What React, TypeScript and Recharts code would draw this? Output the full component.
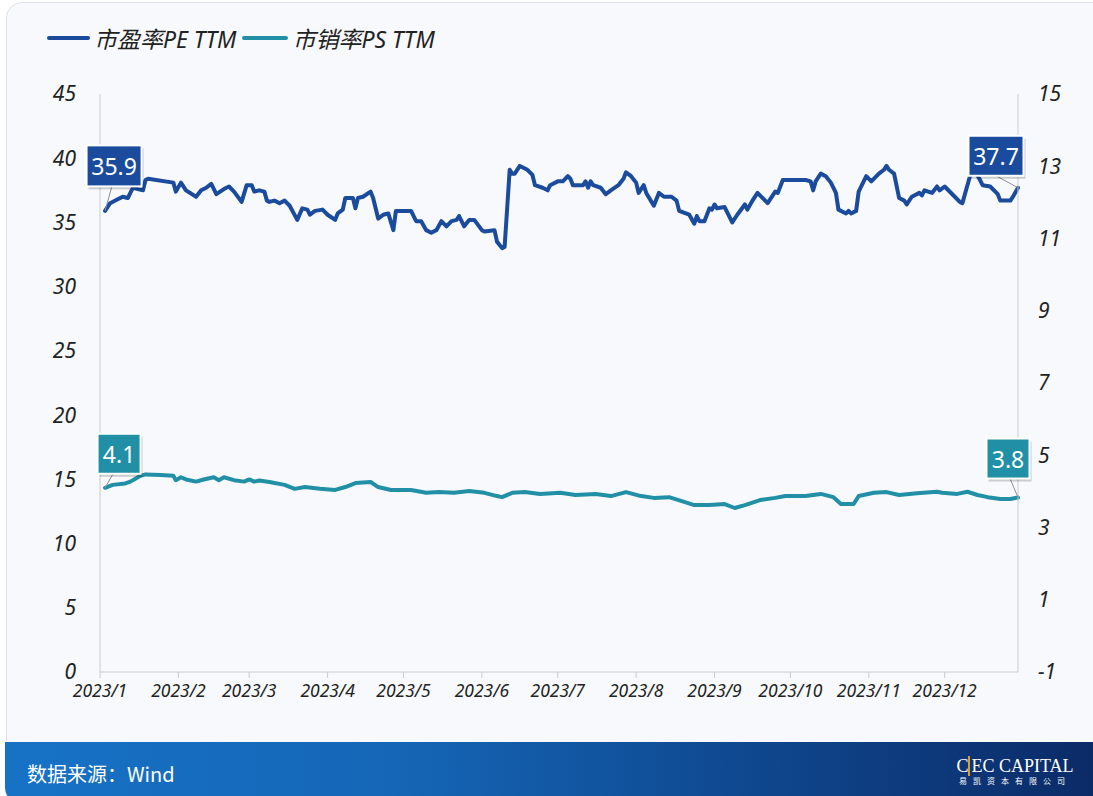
import React from 'react';
import { LineChart, Line, XAxis, YAxis, LabelList } from 'recharts';

const monthTicks = [0, 31, 59, 90, 120, 151, 181, 212, 243, 273, 304, 334];
const monthLabels = ['2023/1', '2023/2', '2023/3', '2023/4', '2023/5', '2023/6', '2023/7', '2023/8', '2023/9', '2023/10', '2023/11', '2023/12'];
const leftTicks = [0, 5, 10, 15, 20, 25, 30, 35, 40, 45];
const rightTicks = [-1, 1, 3, 5, 7, 9, 11, 13, 15];

const peDays = [2, 4, 7, 9, 11, 12, 13, 17, 18, 19, 29, 30, 32, 34, 38, 40, 42, 44, 46, 49, 51, 53, 56, 58, 60, 61, 63, 65, 66, 67, 69, 71, 73, 75, 78, 80, 82, 83, 85, 88, 90, 93, 94, 96, 97, 100, 101, 102, 104, 107, 108, 110, 112, 114, 116, 117, 123, 125, 127, 129, 131, 133, 135, 137, 139, 141, 142, 144, 146, 148, 151, 152, 156, 157, 159, 160, 162, 163, 164, 166, 169, 171, 172, 175, 177, 178, 181, 183, 185, 186, 187, 191, 192, 193, 194, 195, 198, 200, 202, 205, 207, 208, 210, 212, 213, 215, 216, 219, 221, 223, 226, 228, 229, 233, 235, 236, 237, 239, 241, 242, 243, 244, 247, 250, 252, 255, 256, 258, 260, 264, 267, 268, 270, 279, 281, 282, 283, 285, 287, 289, 291, 292, 295, 296, 297, 299, 300, 303, 305, 308, 310, 311, 312, 314, 316, 318, 319, 321, 324, 325, 326, 329, 331, 332, 334, 338, 340, 341, 344, 345, 346, 348, 349, 352, 355, 356, 359, 360, 361, 363];
const peValues = [35.9, 36.5, 36.8, 37.0, 36.9, 37.3, 37.7, 37.5, 38.3, 38.4, 38.1, 37.4, 38.1, 37.5, 37.0, 37.5, 37.7, 38.0, 37.2, 37.6, 37.8, 37.4, 36.6, 37.9, 37.9, 37.4, 37.5, 37.4, 36.7, 36.6, 36.7, 36.5, 36.7, 36.3, 35.2, 36.1, 36.0, 35.6, 35.9, 36.0, 35.6, 35.2, 35.7, 36.0, 36.9, 36.9, 36.1, 36.9, 37.0, 37.4, 36.9, 35.3, 35.6, 35.7, 34.4, 35.9, 35.9, 35.1, 35.1, 34.4, 34.2, 34.4, 35.1, 34.7, 35.1, 35.2, 35.5, 34.7, 35.2, 35.2, 34.4, 34.3, 34.4, 33.5, 33.0, 33.1, 39.1, 38.8, 38.8, 39.4, 39.1, 38.7, 37.9, 37.7, 37.5, 37.9, 38.2, 38.2, 38.6, 38.4, 37.9, 37.9, 38.2, 37.7, 38.2, 37.9, 37.7, 37.2, 37.5, 37.9, 38.4, 38.9, 38.6, 38.1, 37.3, 37.9, 37.3, 36.3, 37.3, 37.0, 37.0, 36.7, 35.9, 35.6, 34.9, 35.5, 35.1, 35.1, 36.1, 36.0, 36.4, 36.1, 36.2, 35.0, 35.6, 36.4, 36.0, 36.7, 37.3, 36.5, 37.4, 37.3, 38.3, 38.3, 38.2, 37.5, 38.2, 38.8, 38.6, 38.1, 37.3, 36.0, 35.7, 35.9, 35.7, 35.9, 37.4, 38.6, 38.2, 38.8, 39.1, 39.4, 39.1, 38.8, 36.9, 36.7, 36.4, 37.0, 37.3, 37.1, 37.5, 37.3, 37.8, 37.5, 37.8, 37.0, 36.6, 36.5, 38.6, 39.1, 39.0, 38.3, 37.9, 37.8, 37.2, 36.7, 36.7, 36.7, 37.0, 37.7];

const psDays = [2, 5, 10, 12, 15, 16, 18, 24, 29, 30, 32, 34, 38, 41, 45, 47, 49, 53, 57, 59, 61, 63, 67, 73, 77, 81, 87, 93, 97, 101, 107, 110, 115, 123, 129, 134, 140, 146, 152, 157, 159, 163, 168, 174, 182, 188, 196, 202, 208, 214, 219, 225, 231, 235, 241, 247, 251, 255, 261, 267, 271, 279, 285, 290, 293, 298, 300, 306, 311, 316, 323, 331, 333, 339, 343, 347, 351, 356, 360, 363];
const psValues = [4.1, 4.18, 4.22, 4.27, 4.39, 4.43, 4.47, 4.45, 4.43, 4.31, 4.39, 4.33, 4.27, 4.33, 4.39, 4.31, 4.39, 4.31, 4.27, 4.33, 4.27, 4.3, 4.26, 4.18, 4.07, 4.12, 4.07, 4.04, 4.12, 4.23, 4.26, 4.12, 4.04, 4.04, 3.96, 3.98, 3.96, 4.01, 3.96, 3.87, 3.84, 3.96, 3.98, 3.93, 3.96, 3.9, 3.93, 3.87, 3.98, 3.87, 3.82, 3.84, 3.71, 3.62, 3.62, 3.65, 3.54, 3.62, 3.76, 3.82, 3.87, 3.87, 3.93, 3.84, 3.65, 3.65, 3.87, 3.96, 3.98, 3.9, 3.95, 3.99, 3.96, 3.93, 3.99, 3.9, 3.84, 3.79, 3.79, 3.83];

const peData = peDays.map((d, i) => ({ day: d, pe: peValues[i] }));
const psData = psDays.map((d, i) => ({ day: d, ps: psValues[i] }));

const PE_COLOR = '#1b4b9c';
const PS_COLOR = '#2190a7';
const FONT = '"Noto Sans", "Open Sans", "Noto Sans CJK SC", sans-serif';

type TagCfg = { dx: number; dy: number; w: number; h: number; lx: number; ly: number };

const makeTag = (len: number, color: string, first: TagCfg, last: TagCfg) => (props: any) => {
  const { x, y, value, index } = props;
  if (index !== 0 && index !== len - 1) return null;
  const c = index === 0 ? first : last;
  const cx = x + c.dx;
  const cy = y + c.dy;
  const text = Number(value).toFixed(1);
  return (
    <g key={'tag' + index}>
      <line x1={cx + c.lx} y1={cy + c.ly} x2={x} y2={y} stroke="#8a8f96" strokeWidth={1} />
      <rect x={cx - c.w / 2 + 2} y={cy - c.h / 2 + 3} width={c.w} height={c.h} fill="rgba(0,0,0,0.18)" />
      <rect x={cx - c.w / 2} y={cy - c.h / 2} width={c.w} height={c.h} fill={color} stroke="#ffffff" strokeWidth={2} />
      <text x={cx} y={cy} textAnchor="middle" dominantBaseline="central" fill="#ffffff" fontSize={23} fontFamily={FONT}>
        {text}
      </text>
    </g>
  );
};

const peTag = makeTag(
  peData.length,
  PE_COLOR,
  { dx: 9, dy: -45, w: 55, h: 41, lx: -2, ly: 20 },
  { dx: -22, dy: -32, w: 55, h: 40, lx: 0, ly: 20 }
);
const psTag = makeTag(
  psData.length,
  PS_COLOR,
  { dx: 14, dy: -34, w: 43, h: 40, lx: -6, ly: 20 },
  { dx: -10, dy: -39, w: 43, h: 40, lx: 2, ly: 20 }
);

const axisTick = { fontSize: 21, fill: '#222', fontStyle: 'italic', fontFamily: FONT } as any;

export default function App() {
  return (
    <div style={{ position: 'fixed', left: 0, top: 0, width: 1093, height: 796, background: '#ffffff', overflow: 'hidden', fontFamily: FONT }}>
      <div style={{ position: 'absolute', left: 6, top: 2, width: 1110, height: 820, border: '1px solid #dfe3ea', borderRadius: 16, background: '#f7f9fc' }} />
      <div style={{ position: 'absolute', left: 0, top: 0 }}>
        <LineChart width={1093} height={740} margin={{ top: 94, right: 15, left: 40, bottom: 38 }}>
          <XAxis
            dataKey="day"
            type="number"
            domain={[0, 363]}
            ticks={monthTicks}
            tickFormatter={(v: number) => monthLabels[monthTicks.indexOf(v)] ?? ''}
            interval={0}
            allowDuplicatedCategory={false}
            height={30}
            stroke="#c9ccd2"
            tickSize={6}
            tickMargin={7}
            tick={{ fontSize: 17.5, fill: '#222', fontStyle: 'italic', fontFamily: FONT }}
          />
          <YAxis
            yAxisId="left"
            width={60}
            domain={[0, 45]}
            ticks={leftTicks}
            interval={0}
            stroke="#c9ccd2"
            tickLine={false}
            tickSize={0}
            tickMargin={24}
            tick={axisTick}
          />
          <YAxis
            yAxisId="right"
            orientation="right"
            width={60}
            domain={[-1, 15]}
            ticks={rightTicks}
            interval={0}
            stroke="#c9ccd2"
            tickLine={false}
            tickSize={0}
            tickMargin={20}
            tickFormatter={(v: number) => (v < 0 ? '\u2212' + Math.abs(v) : String(v))}
            tick={axisTick}
          />
          <Line
            yAxisId="right"
            data={psData}
            dataKey="ps"
            type="linear"
            stroke={PS_COLOR}
            strokeWidth={4}
            strokeLinejoin="round"
            strokeLinecap="round"
            dot={false}
            activeDot={false}
            isAnimationActive={false}
          >
            <LabelList dataKey="ps" content={psTag} />
          </Line>
          <Line
            yAxisId="left"
            data={peData}
            dataKey="pe"
            type="linear"
            stroke={PE_COLOR}
            strokeWidth={4}
            strokeLinejoin="round"
            strokeLinecap="round"
            dot={false}
            activeDot={false}
            isAnimationActive={false}
          >
            <LabelList dataKey="pe" content={peTag} />
          </Line>
        </LineChart>
      </div>
      <div style={{ position: 'absolute', left: 47, top: 21, display: 'flex', alignItems: 'center', fontSize: 23, color: '#222', whiteSpace: 'nowrap' }}>
        <span style={{ display: 'inline-block', width: 43, height: 4, borderRadius: 2, background: PE_COLOR, marginRight: 4 }} />
        <span style={{ fontStyle: 'italic' }}>市盈率PE TTM</span>
        <span style={{ display: 'inline-block', width: 46, height: 4, borderRadius: 2, background: PS_COLOR, marginLeft: 6, marginRight: 4 }} />
        <span style={{ fontStyle: 'italic' }}>市销率PS TTM</span>
      </div>
      <div
        style={{
          position: 'absolute',
          left: 5,
          top: 742,
          width: 1100,
          height: 60,
          borderBottomLeftRadius: 14,
          background: 'linear-gradient(90deg, #1772c6 0%, #1566b7 35%, #0f4a92 65%, #0b2a66 100%)',
        }}
      />
      <div style={{ position: 'absolute', left: 27, top: 759, fontSize: 20, color: '#ffffff', fontFamily: '"Noto Sans CJK SC", sans-serif', whiteSpace: 'nowrap' }}>
        数据来源：Wind
      </div>
      <div style={{ position: 'absolute', left: 955, top: 756, width: 120, color: '#ffffff', textAlign: 'center', whiteSpace: 'nowrap' }}>
        <div style={{ fontFamily: '"Liberation Serif", serif', fontSize: 18, lineHeight: '20px', letterSpacing: 0 }}>
          C<span style={{ borderLeft: '2px solid #e39a2d', paddingLeft: 1 }}>E</span>C CAPITAL
        </div>
        <div style={{ fontFamily: '"Noto Sans CJK SC", sans-serif', fontSize: 8, lineHeight: '10px', letterSpacing: 6 }}>易凯资本有限公司</div>
      </div>
    </div>
  );
}
